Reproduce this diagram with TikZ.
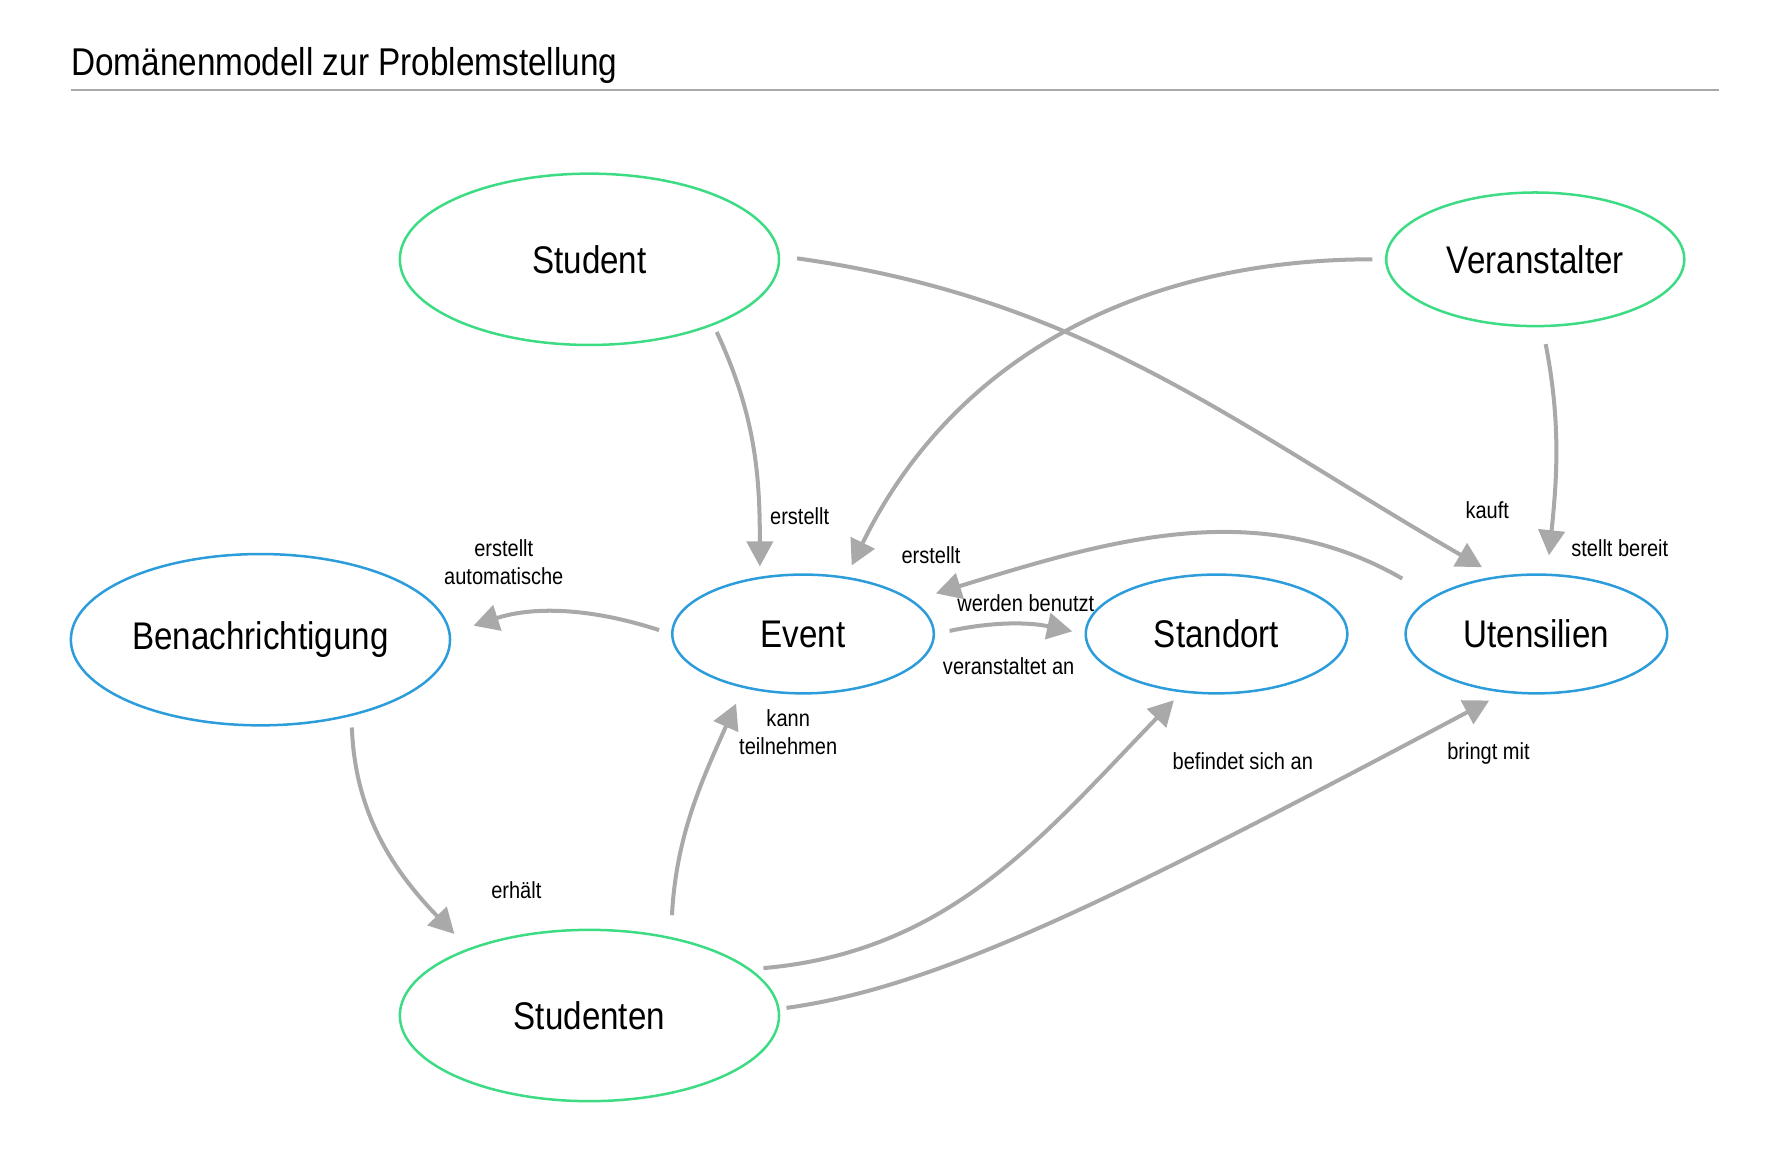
\documentclass[tikz,border=0pt]{standalone}
\usepackage{fontspec}
\setmainfont[FakeStretch=0.86]{Liberation Sans}
\usepackage{tikz}
\usetikzlibrary{shapes.geometric, arrows.meta}
\definecolor{entgreen}{HTML}{3DDC84}
\definecolor{entblue}{HTML}{2D9CDB}
\definecolor{linkgray}{HTML}{A9A9A9}
\newcommand{\lbl}[1]{\fontsize{11.6}{13.8}\selectfont #1}

\begin{document}
\begin{tikzpicture}[x=0.02cm, y=-0.02cm,
    actor/.style={ellipse, draw=entgreen, line width=1.25pt, inner sep=0pt,
        font=\fontsize{19.2}{23}\selectfont},
    thing/.style={ellipse, draw=entblue, line width=1.25pt, inner sep=0pt,
        font=\fontsize{19.2}{23}\selectfont},
    link/.style={draw=linkgray, line width=2pt,
        -{Triangle[length=0.44cm, width=0.46cm]}},
    rel/.style={align=center, font=\lbl}]
\useasboundingbox (0,0) rectangle (1560,1010);

% title
\node[anchor=base west, inner sep=0pt, font=\fontsize{19.3}{23}\selectfont] (title) at (62,66) {Domänenmodell zur Problemstellung};
\draw[linkgray, line width=0.8pt] (62,79) -- (1505,79);

% nodes
\node[actor, minimum width=6.64cm, minimum height=3cm] (student) at (516,227) {Student};
\node[actor, minimum width=5.22cm, minimum height=2.34cm] (veranstalter) at (1344,227) {Veranstalter};
\node[thing, minimum width=6.64cm, minimum height=3cm] (benach) at (228,560) {Benachrichtigung};
\node[thing, minimum width=4.58cm, minimum height=2.08cm] (event) at (703,555) {Event};
\node[thing, minimum width=4.58cm, minimum height=2.08cm] (standort) at (1065,555) {Standort};
\node[thing, minimum width=4.58cm, minimum height=2.08cm] (utensilien) at (1345,555) {Utensilien};
\node[actor, minimum width=6.64cm, minimum height=3cm] (studenten) at (516,889) {Studenten};

% connectors
\draw[link, shorten <=0.13cm, shorten >=0.18cm] (student.-28) to[out=-65, in=90] (event.127);
\draw[link, shorten <=0.3cm, shorten >=0.31cm] (student.1) to[out=-8, in=150] (utensilien.124);
\draw[link, shorten <=0.22cm, shorten >=0.22cm] (veranstalter.180) to[out=180, in=64] (event.53);
\draw[link, shorten <=0.3cm, shorten >=0.32cm] (veranstalter.-84) to[out=-79, in=84] (utensilien.80);
\draw[link, shorten <=0.62cm, shorten >=0.42cm] (utensilien.160) to[out=150, in=17] (event.17);
\draw[link, shorten <=0.26cm, shorten >=0.22cm] (event.0) to[out=12, in=168] (standort.180);
\draw[link, shorten <=0.22cm, shorten >=0.42cm] (event.180) to[out=162, in=18] (benach.2);
\draw[link, shorten <=0.2cm, shorten >=0.35cm] (benach.-40) to[out=-88, in=134] (studenten.151);
\draw[link, shorten <=0.38cm, shorten >=0.3cm] (studenten.44) to[out=87, in=-114] (event.-138);
\draw[link, shorten <=0.22cm, shorten >=0.19cm] (studenten.16) to[out=5, in=-134] (standort.-121);
\draw[link, shorten <=0.12cm, shorten >=0.29cm] (studenten.2) to[out=8, in=-152, out looseness=0.5, in looseness=1.5] (utensilien.-119);

% labels
\node[rel] (l-erstellt) at (700,452) {erstellt};
\node[rel] (l-kauft) at (1302,447) {kauft};
\node[rel] (l-erstellt2) at (815,486) {erstellt};
\node[rel] (l-bereit) at (1418,480) {stellt bereit};
\node[rel] (l-benutzt) at (898,528) {werden benutzt};
\node[rel] (l-veranst) at (883,583) {veranstaltet an};
\node[rel] (l-auto) at (441,492) {erstellt\\automatische};
\node[rel] (l-erhaelt) at (452,779) {erhält};
\node[rel] (l-teil) at (690,641) {kann\\teilnehmen};
\node[rel] (l-befindet) at (1088,666) {befindet sich an};
\node[rel] (l-bringt) at (1303,660) {bringt mit};
\end{tikzpicture}
\end{document}
